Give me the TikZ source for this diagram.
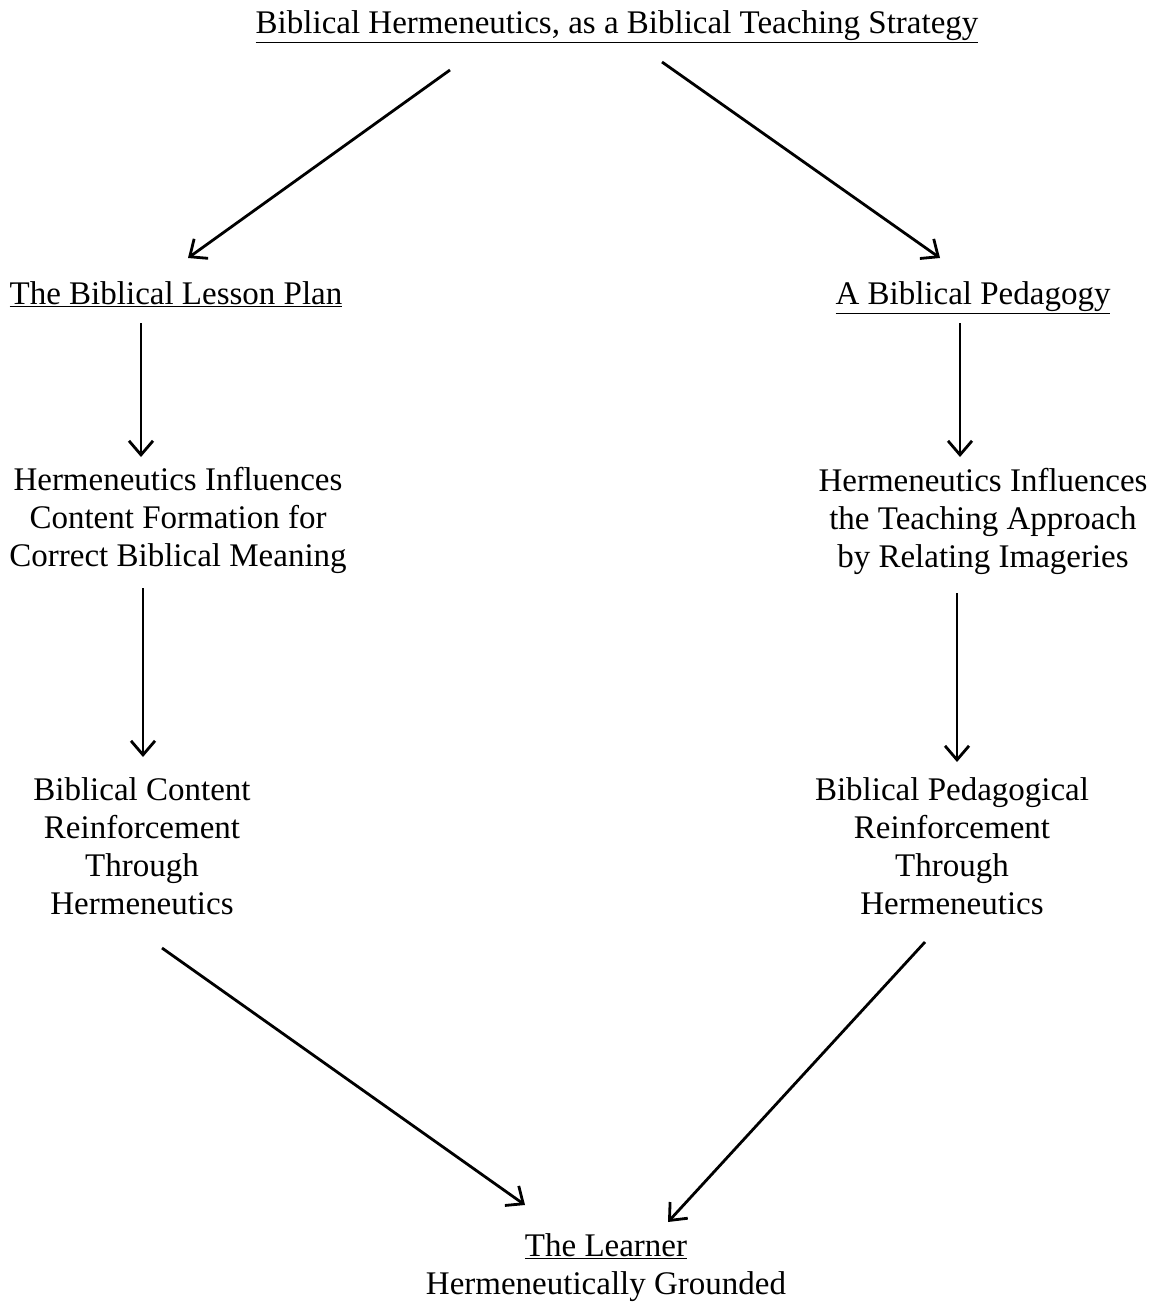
\documentclass[tikz,border=0pt]{standalone}
\usepackage{fontspec}
\setmainfont{Liberation Serif}
\usetikzlibrary{arrows.meta,calc}
\tikzset{
  txt/.style={align=center,inner sep=0pt,font=\fontsize{33}{38}\selectfont},
  hd/.style={txt,text height=23pt,text depth=8pt},
  arr/.style={line width=2.8pt,-{Straight Barb[length=14pt,width=24pt,line width=2.8pt]}}
}
\begin{document}
\begin{tikzpicture}[x=1pt,y=1pt]
\useasboundingbox (0,0) rectangle (1156,-1303);
\node[hd] (title) at (617,-26) {\underline{Biblical Hermeneutics, as a Biblical Teaching Strategy}};
\node[hd] (lp) at (176,-297) {\underline{The Biblical Lesson Plan}};
\node[hd] (bp) at (973,-297) {\underline{A Biblical Pedagogy}};
\node[txt] (l1) at (178,-520) {Hermeneutics Influences\\Content Formation for\\Correct Biblical Meaning};
\node[txt] (r1) at (983,-521) {Hermeneutics Influences\\the Teaching Approach\\by Relating Imageries};
\node[txt] (l2) at (142,-846) {Biblical Content\\Reinforcement\\Through\\Hermeneutics};
\node[txt] (r2) at (952,-846) {Biblical Pedagogical\\Reinforcement\\Through\\Hermeneutics};
\node[txt] (ln) at (606,-1268) {\underline{The Learner}\\Hermeneutically Grounded};
\draw[arr] ($(title.center)+(-167,-44)$) -- ($(lp.center)+(12,39)$);
\draw[arr] ($(title.center)+(45,-36)$) -- ($(bp.center)+(-33,39)$);
\draw[arr] ($(lp.center)+(-35,-26)$) -- ($(l1.center)+(-37,63)$);
\draw[arr] ($(bp.center)+(-13,-26)$) -- ($(r1.center)+(-23,64)$);
\draw[arr] ($(l1.center)+(-35,-68)$) -- ($(l2.center)+(1,89)$);
\draw[arr] ($(r1.center)+(-26,-72)$) -- ($(r2.center)+(5,84)$);
\draw[arr] ($(l2.center)+(20,-102)$) -- ($(ln.center)+(-81,63)$);
\draw[arr] ($(r2.center)+(-27,-96)$) -- ($(ln.center)+(62,46)$);
\end{tikzpicture}
\end{document}
